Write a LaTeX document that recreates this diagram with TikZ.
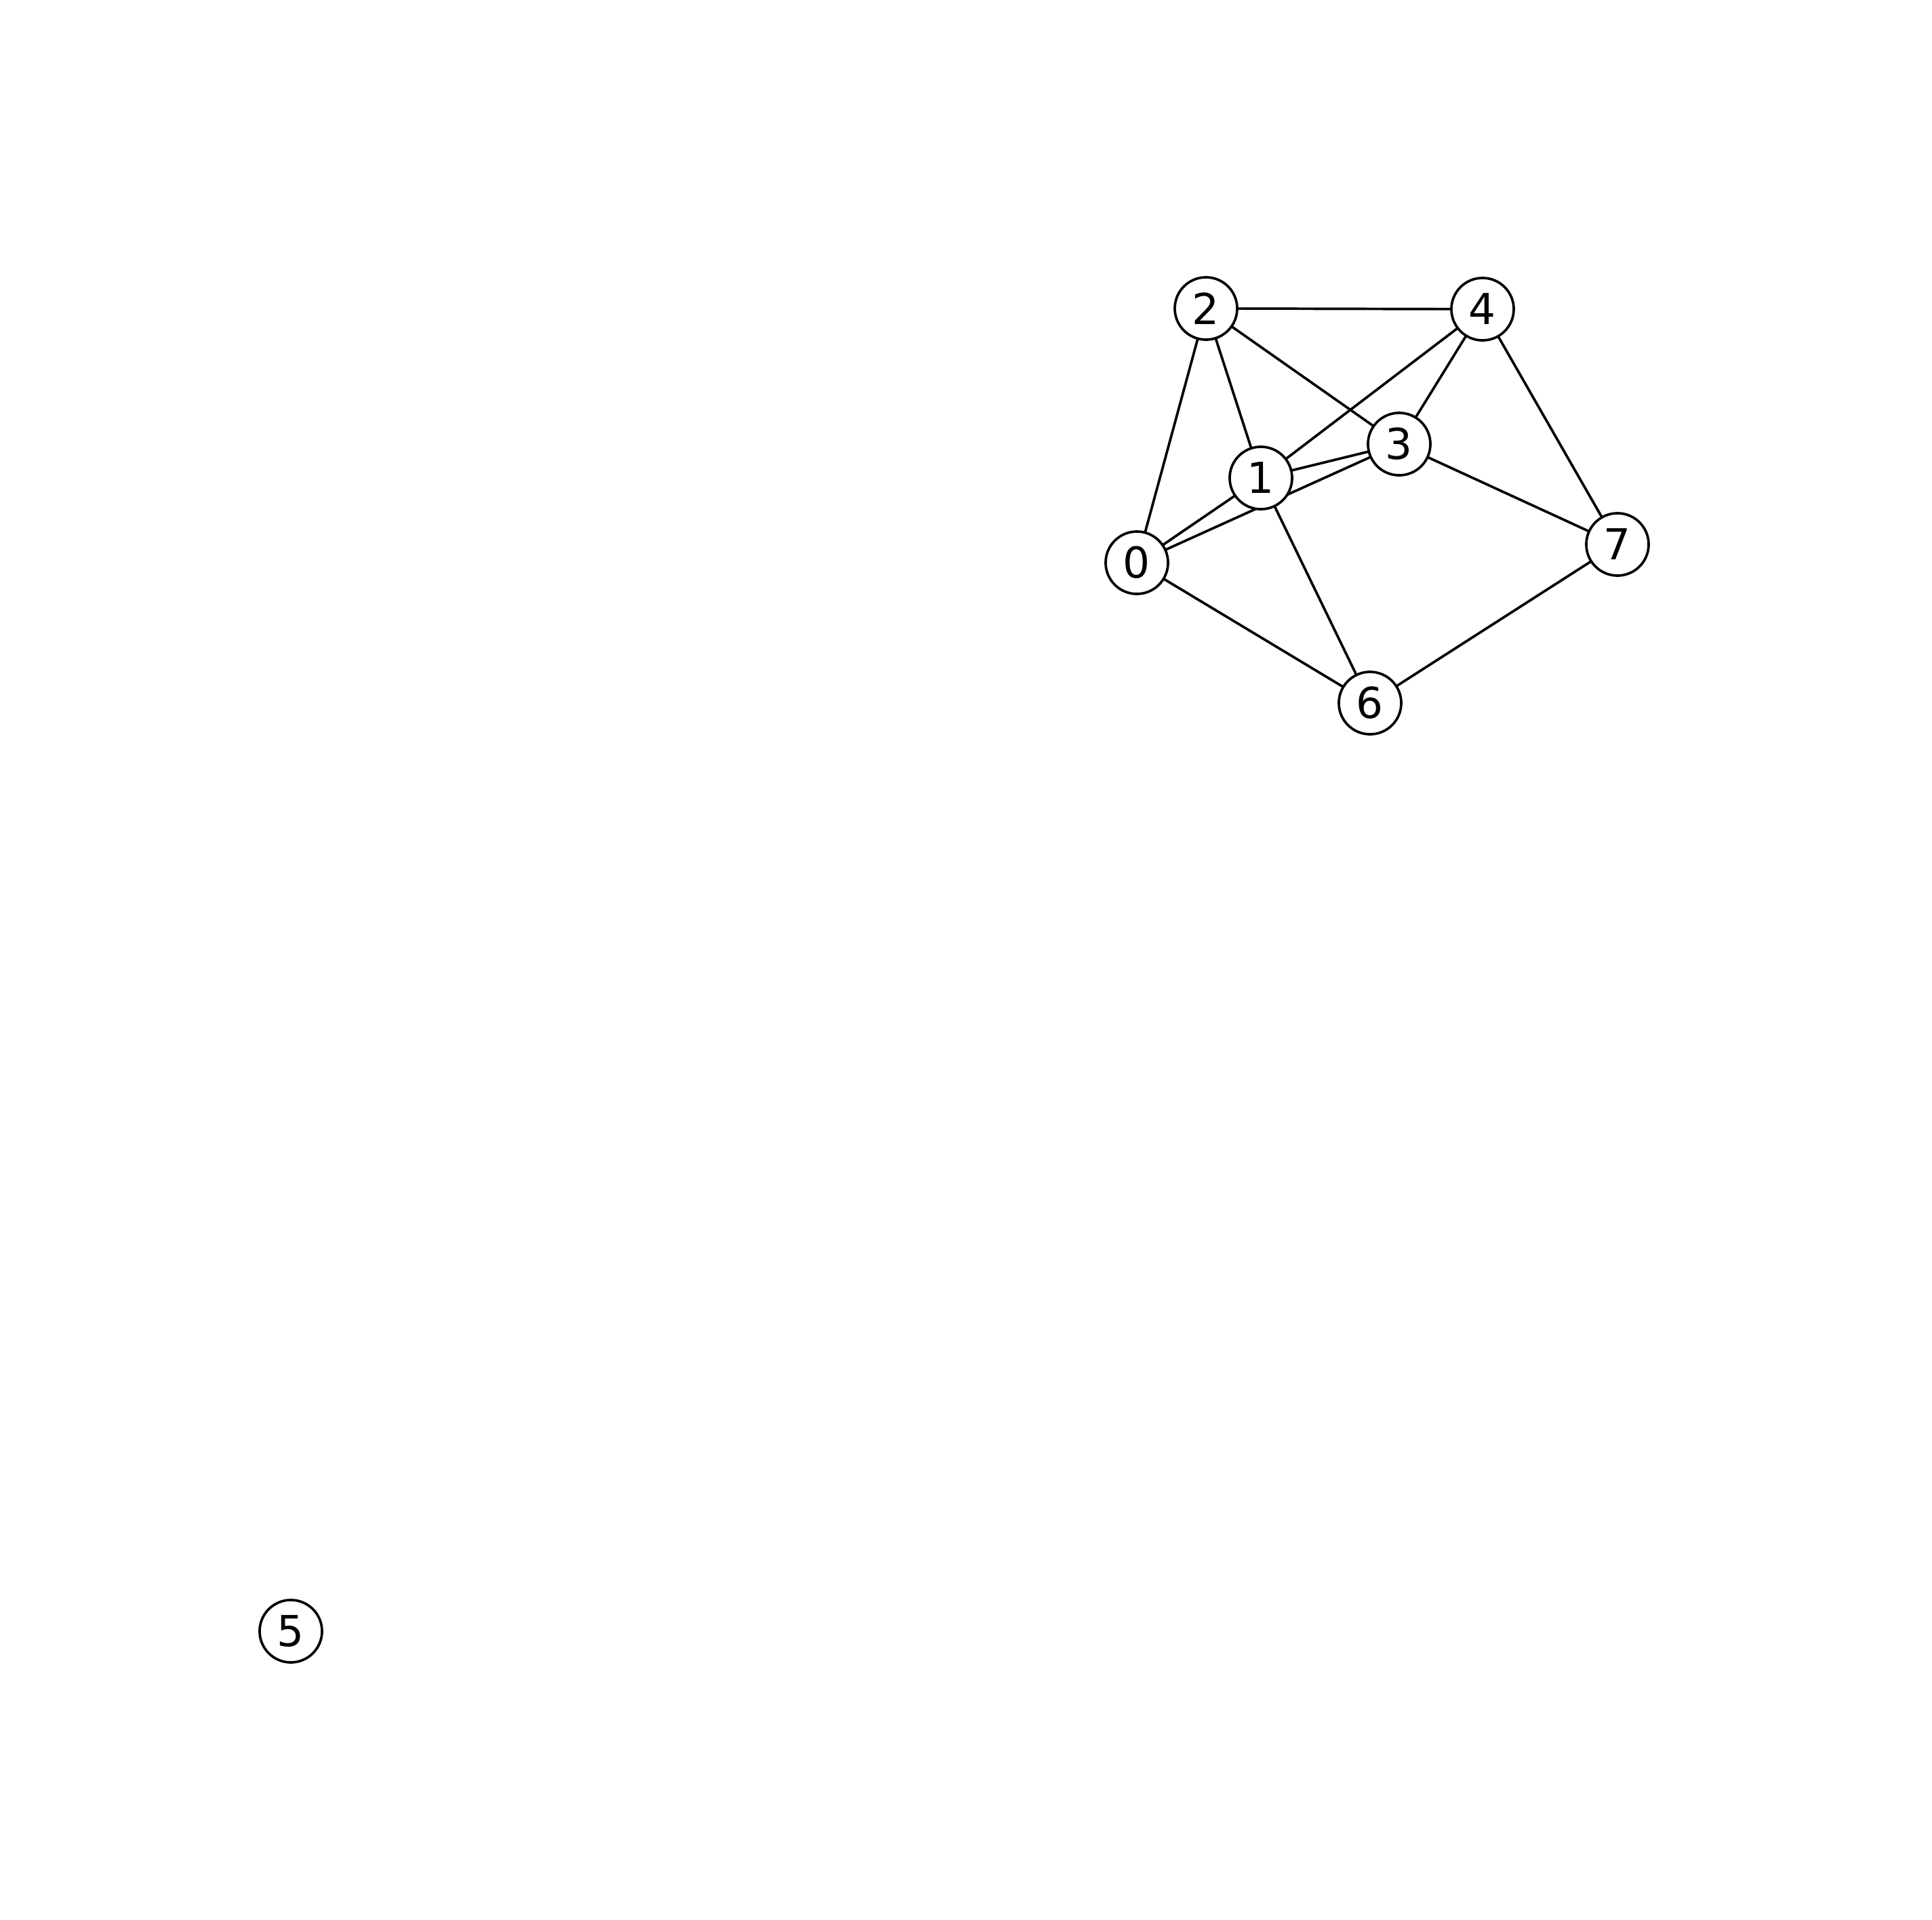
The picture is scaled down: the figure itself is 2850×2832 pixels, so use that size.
\documentclass[tikz,border=0pt]{standalone}
\usepackage{fontspec}
\setmainfont{DejaVu Sans}
\usetikzlibrary{backgrounds}
\begin{document}
\begin{tikzpicture}[x=0.01cm,y=-0.01cm,
  vtx/.style={circle,draw=black,fill=white,line width=1.05pt,minimum size=0.92cm,inner sep=0pt,font=\fontsize{17.9}{20}\selectfont},
  edge/.style={draw=black,line width=1.05pt}]
\useasboundingbox (0,0) rectangle (2850,2832);
\node[vtx] (n0) at (1677,830) {0};
\node[vtx] (n1) at (1860,705) {1};
\node[vtx] (n2) at (1779,455) {2};
\node[vtx] (n3) at (2064,655) {3};
\node[vtx] (n4) at (2187,456) {4};
\node[vtx] (n7) at (2386,803) {7};
\node[vtx] (n6) at (2021,1037) {6};
\node[vtx] (n5) at (429,2406) {5};
\begin{scope}[on background layer]
\draw[edge] (n0.center) -- (n1.center);
\draw[edge] (n0.center) -- (n2.center);
\draw[edge] (n0.center) -- (n3.center);
\draw[edge] (n0.center) -- (n6.center);
\draw[edge] (n1.center) -- (n2.center);
\draw[edge] (n1.center) -- (n3.center);
\draw[edge] (n1.center) -- (n4.center);
\draw[edge] (n1.center) -- (n6.center);
\draw[edge] (n2.center) -- (n3.center);
\draw[edge] (n2.center) -- (n4.center);
\draw[edge] (n3.center) -- (n4.center);
\draw[edge] (n3.center) -- (n7.center);
\draw[edge] (n4.center) -- (n7.center);
\draw[edge] (n6.center) -- (n7.center);
\end{scope}
\end{tikzpicture}
\end{document}
